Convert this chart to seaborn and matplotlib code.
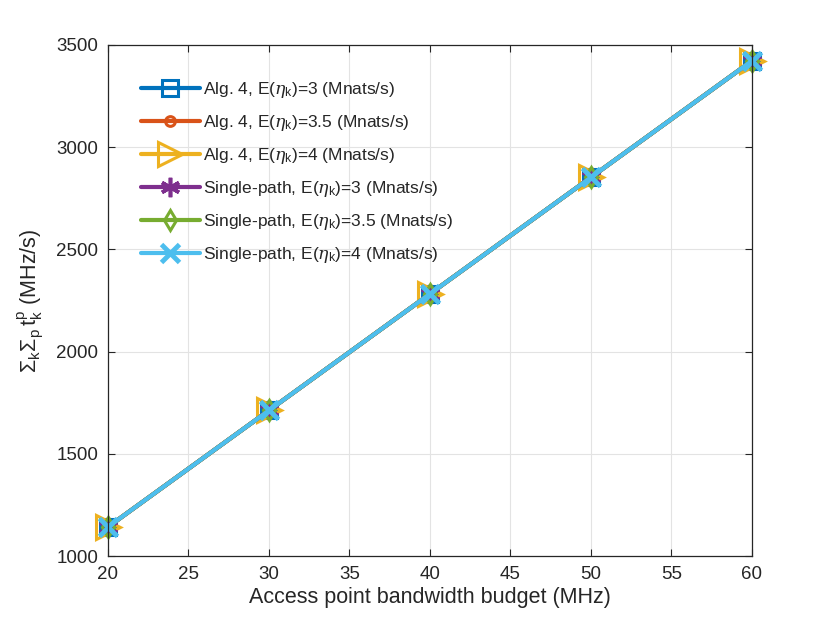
import seaborn as sns
import matplotlib.pyplot as plt
import pandas as pd
import numpy as np

bandwidth = [20, 30, 40, 50, 60]
alg4_3 = [1142, 1712, 2282, 2852, 3422]
alg4_35 = [1142, 1712, 2282, 2852, 3422]
alg4_4 = [1142, 1712, 2282, 2852, 3422]
single_3 = [1142, 1712, 2282, 2852, 3422]
single_35 = [1142, 1712, 2282, 2852, 3422]
single_4 = [1142, 1712, 2282, 2852, 3422]

labels = [
    r"Alg. 4, E($\eta_\mathregular{k}$)=3 (Mnats/s)",
    r"Alg. 4, E($\eta_\mathregular{k}$)=3.5 (Mnats/s)",
    r"Alg. 4, E($\eta_\mathregular{k}$)=4 (Mnats/s)",
    r"Single-path, E($\eta_\mathregular{k}$)=3 (Mnats/s)",
    r"Single-path, E($\eta_\mathregular{k}$)=3.5 (Mnats/s)",
    r"Single-path, E($\eta_\mathregular{k}$)=4 (Mnats/s)",
]
series = [alg4_3, alg4_35, alg4_4, single_3, single_35, single_4]

sns.set_style("ticks")
plt.rcParams['font.family'] = ['Liberation Sans', 'DejaVu Sans']
plt.rcParams['mathtext.fontset'] = 'custom'
plt.rcParams['mathtext.rm'] = 'Liberation Sans'
plt.rcParams['mathtext.it'] = 'DejaVu Serif:italic'

colors = ["#0072BD", "#D95319", "#EDB120", "#7E2F8E", "#77AC30", "#4DBEEE"]
styles = [
    dict(marker="s", markersize=12, markerfacecolor="none", markeredgewidth=2.2),
    dict(marker="o", markersize=7, markerfacecolor="none", markeredgewidth=2.2),
    dict(marker=">", markersize=17, markerfacecolor="none", markeredgewidth=2.2),
    dict(marker=(6, 2, 0), markersize=14, markeredgewidth=2.6),
    dict(marker="d", markersize=10, markerfacecolor="none", markeredgewidth=2.2),
    dict(marker="x", markersize=13, markeredgewidth=3.5),
]

fig, ax = plt.subplots(figsize=(8.3, 6.23), dpi=100)
fig.subplots_adjust(left=0.130, right=0.906, bottom=0.1075, top=0.928)

for vals, lab, col, st in zip(series, labels, colors, styles):
    df = pd.DataFrame({"x": bandwidth, "y": vals})
    sns.lineplot(data=df, x="x", y="y", ax=ax, color=col, linewidth=3,
                 label=lab, markeredgecolor=col, clip_on=False, **st)

ax.set_xlim(20, 60)
ax.set_ylim(1000, 3500)
ax.set_xticks(np.arange(20, 61, 5))
ax.set_yticks(np.arange(1000, 3501, 500))
ax.grid(True, color="#e3e3e3", linewidth=0.8)
ax.set_axisbelow(True)
for sp in ax.spines.values():
    sp.set_visible(True)
    sp.set_color("#262626")
    sp.set_linewidth(0.9)
ax.tick_params(direction="in", top=True, right=True, labelsize=13.5,
               colors="#262626", length=5, pad=7)
ax.set_xlabel("Access point bandwidth budget (MHz)", fontsize=15.5, color="#262626",
              labelpad=3)
ax.set_ylabel(r"$\Sigma_\mathregular{k}\Sigma_\mathregular{p}\,\mathregular{t}_\mathregular{k}^\mathregular{p}$ (MHz/s)",
              fontsize=15.5, color="#262626", labelpad=8)

leg = ax.legend(loc="upper left", bbox_to_anchor=(0.027, 0.962), frameon=False,
                fontsize=12.5, handlelength=3.4, labelspacing=0.75, handletextpad=0.2)

fig.savefig("out.png", dpi=100)
